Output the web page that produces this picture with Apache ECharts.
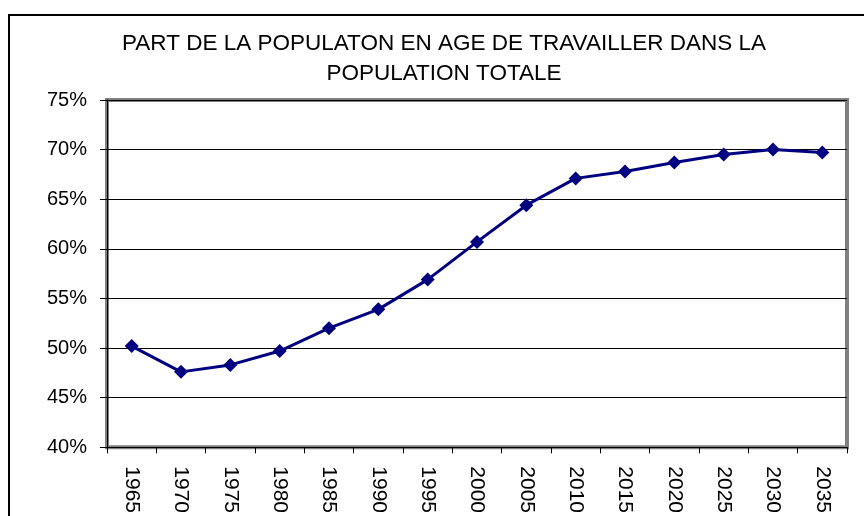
<!DOCTYPE html>
<html>
<head>
<meta charset="utf-8">
<script src="https://cdn.jsdelivr.net/npm/echarts@6/dist/echarts.min.js"></script>
<style>
html,body{margin:0;padding:0;background:#fff;}
#chart{width:864px;height:516px;}
</style>
</head>
<body>
<div id="chart"></div>
<script>
const years = ['1965','1970','1975','1980','1985','1990','1995','2000','2005','2010','2015','2020','2025','2030','2035'];
const shareWorkingAge = [50.2, 47.6, 48.3, 49.7, 52.0, 53.9, 56.9, 60.7, 64.4, 67.1, 67.8, 68.7, 69.5, 70.0, 69.7];
const titleLines = ['PART DE LA POPULATON EN AGE DE TRAVAILLER DANS LA', 'POPULATION TOTALE'];

const chart = echarts.init(document.getElementById('chart'));
const font = 'Liberation Sans, Arial, sans-serif';
chart.setOption({
  animation: false,
  backgroundColor: '#fff',
  graphic: [
    { type: 'rect', shape: { x: 9, y: 15, width: 900, height: 600 },
      style: { fill: 'none', stroke: '#000', lineWidth: 2 }, z: 10 },
    { type: 'text', x: 444, y: 44,
      style: { text: titleLines[0], fontFamily: font, fontSize: 22.5, fill: '#000', textAlign: 'center', textVerticalAlign: 'middle' } },
    { type: 'text', x: 444, y: 73.5,
      style: { text: titleLines[1], fontFamily: font, fontSize: 22.5, fill: '#000', textAlign: 'center', textVerticalAlign: 'middle' } }
  ],
  grid: {
    left: 107, right: 17, top: 100, bottom: 68,
    show: true, borderColor: '#808080', borderWidth: 4, backgroundColor: '#fff'
  },
  xAxis: {
    type: 'category',
    data: years,
    boundaryGap: true,
    axisLine: { show: true, lineStyle: { color: '#000', width: 1 } },
    axisTick: { show: true, alignWithLabel: false, length: 6, lineStyle: { color: '#000', width: 1 } },
    axisLabel: { rotate: -90, margin: 19, fontFamily: font, fontSize: 21, color: '#000', interval: 0 },
    splitLine: { show: false }
  },
  yAxis: {
    type: 'value',
    min: 40, max: 75, interval: 5,
    axisLine: { show: true, lineStyle: { color: '#000', width: 1 } },
    axisTick: { show: true, length: 7, lineStyle: { color: '#000', width: 1 } },
    axisLabel: { formatter: '{value}%', fontFamily: font, fontSize: 20, color: '#000', margin: 20 },
    splitLine: { show: true, lineStyle: { color: '#000', width: 1 } }
  },
  series: [{
    type: 'line',
    data: shareWorkingAge,
    symbol: 'diamond',
    symbolSize: 14,
    lineStyle: { color: '#000080', width: 3 },
    itemStyle: { color: '#000080' }
  }]
});
</script>
</body>
</html>
